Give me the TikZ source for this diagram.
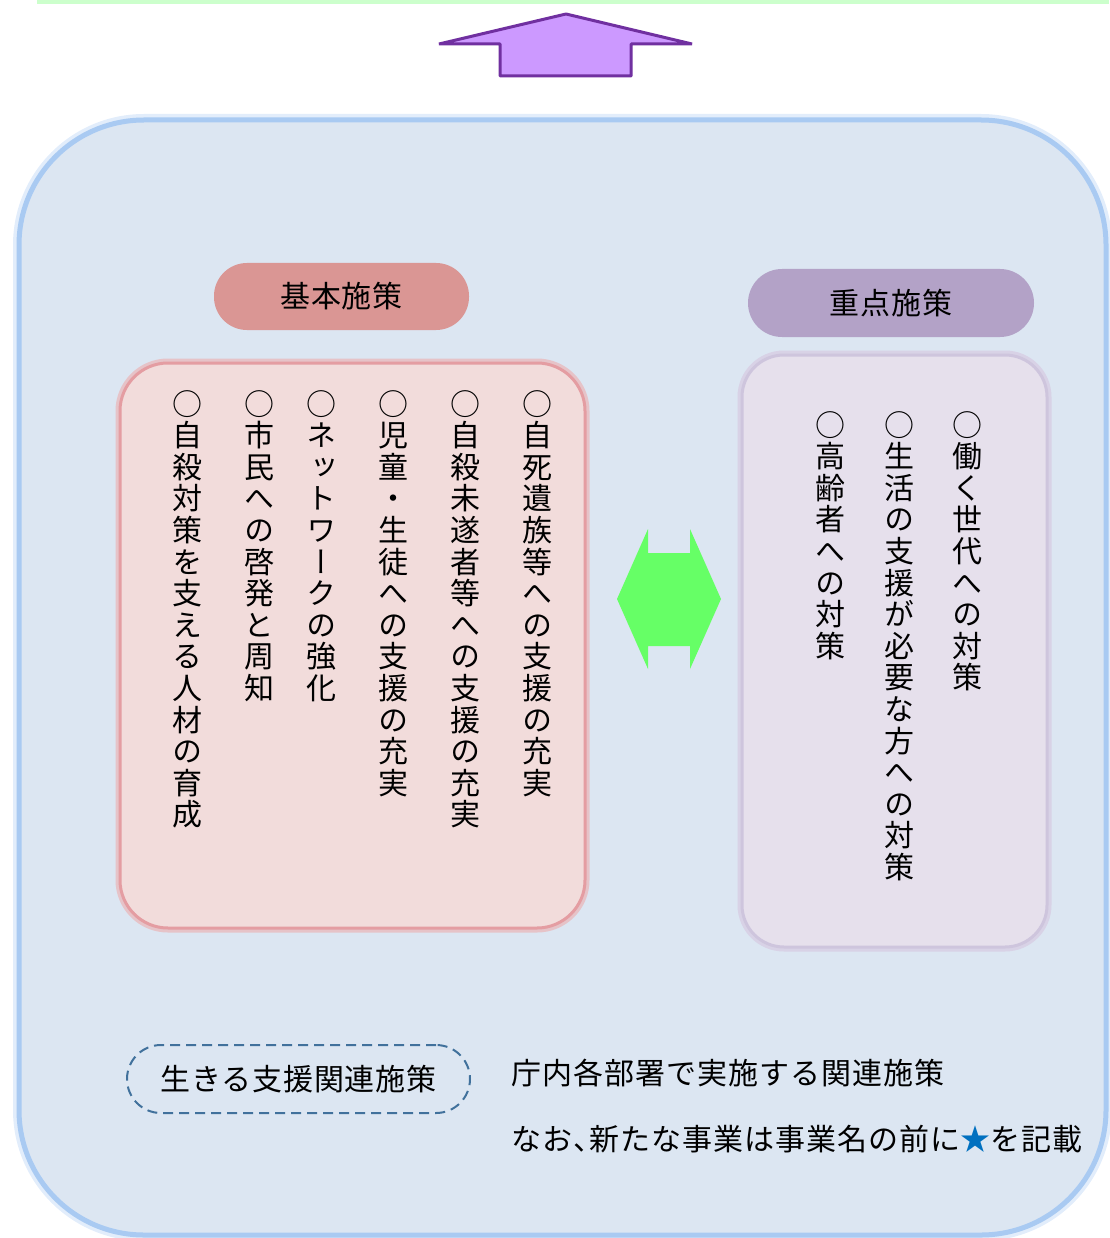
\documentclass[tikz,border=0pt]{standalone}
\usepackage{fontspec}
\setmainfont{Noto Sans CJK JP}
\newfontfamily\jp{Noto Sans CJK JP}
\newfontfamily\vjp[RawFeature=+vert]{Noto Sans CJK JP}
\definecolor{bigfill}{HTML}{DCE6F2}
\definecolor{bigedge}{HTML}{A9CAF2}
\definecolor{bighalo}{HTML}{E2EDFB}
\definecolor{pinkfill}{HTML}{F2DCDB}
\definecolor{pinkedge}{HTML}{E49DA2}
\definecolor{pinkhalo}{HTML}{E6C3C8}
\definecolor{lilacfill}{HTML}{E6E0EC}
\definecolor{lilacedge}{HTML}{CEC5DD}
\definecolor{lilachalo}{HTML}{D8D2E6}
\definecolor{kihoncol}{HTML}{DA9694}
\definecolor{juten}{HTML}{B3A2C7}
\definecolor{arrowfill}{HTML}{CC99FF}
\definecolor{arrowedge}{HTML}{7030A0}
\definecolor{greenarrow}{HTML}{66FF66}
\definecolor{topline}{HTML}{CCFFCC}
\definecolor{dashcol}{HTML}{41719C}
\definecolor{starblue}{HTML}{0070C0}
\makeatletter
\newcommand\vtext[1]{\vbox{\baselineskip=31.6pt\lineskiplimit=-\maxdimen\@tfor\vch:=#1\do{\hbox{\vch}}}}
\makeatother
\tikzset{
  vcol/.style={anchor=north, inner sep=0pt, font=\vjp\fontsize{30}{31.6}\selectfont},
  pill/.style={inner sep=0pt, font=\jp\fontsize{30}{36}\addfontfeature{LetterSpace=3}\selectfont},
  htext/.style={anchor=west, inner sep=0pt, font=\jp\fontsize{30}{36}\addfontfeature{LetterSpace=3.5}\selectfont},
}
\begin{document}
\begin{tikzpicture}[x=1pt,y=-1pt]
\useasboundingbox (0,0) rectangle (1109,1238);
% top green line
\fill[topline] (37,0) rectangle (1109,4);
% purple up arrow
\draw[fill=arrowfill, draw=arrowedge, line width=3pt, line join=bevel]
  (566,14) -- (692,44) -- (631,44) -- (631,76) -- (500,76) -- (500,44) -- (439,44) -- cycle;
% big rounded panel
\draw[bighalo, line width=12pt, rounded corners=125pt] (19,120) rectangle (1106,1235);
\draw[fill=bigfill, draw=bigedge, line width=5pt, rounded corners=125pt] (19,120) rectangle (1106,1235);
% pills
\node[pill, fill=kihoncol, minimum width=255pt, minimum height=67pt, rounded corners=33pt] (kihon) at (341.5,296.5) {基本施策};
\node[pill, fill=juten, minimum width=286pt, minimum height=68pt, rounded corners=34pt] (jutenp) at (891,303) {重点施策};
% left box
\draw[pinkhalo, line width=9pt, rounded corners=48pt] (120,363) rectangle (585,928);
\draw[fill=pinkfill, draw=pinkedge, line width=3pt, rounded corners=48pt] (120,363) rectangle (585,928);
% right box
\draw[lilachalo, line width=9pt, rounded corners=42pt] (742,355) rectangle (1047,947);
\draw[fill=lilacfill, draw=lilacedge, line width=3pt, rounded corners=42pt] (742,355) rectangle (1047,947);
% left columns
\node[vcol] (l1) at (537,390) {\vtext{○自死遺族等への支援の充実}};
\node[vcol] (l2) at (465,390) {\vtext{○自殺未遂者等への支援の充実}};
\node[vcol] (l3) at (393,390) {\vtext{○児童・生徒への支援の充実}};
\node[vcol] (l4) at (321,390) {\vtext{○ネットワークの強化}};
\node[vcol] (l5) at (259,390) {\vtext{○市民への啓発と周知}};
\node[vcol] (l6) at (187,390) {\vtext{○自殺対策を支える人材の育成}};
% right columns
\node[vcol] (r1) at (967,411) {\vtext{○働く世代への対策}};
\node[vcol] (r2) at (899,411) {\vtext{○生活の支援が必要な方への対策}};
\node[vcol] (r3) at (830,411) {\vtext{○高齢者への対策}};
% green double arrow
\fill[greenarrow] (617,599) -- (648,529) -- (648,553) -- (690,553) -- (690,529) -- (721,599)
  -- (690,669) -- (690,646) -- (648,646) -- (648,669) -- cycle;
% legend
\node[pill, draw=dashcol, line width=2pt, dash pattern=on 10pt off 6pt, minimum width=343pt, minimum height=68pt, rounded corners=34pt] (ikiru) at (298.5,1079) {生きる支援関連施策};
\node[htext] (t1) at (511,1073) {庁内各部署で実施する関連施策};
\node[htext] (t2) at (511,1139) {なお、\kern-14pt 新たな事業は事業名の前に\textcolor{starblue}{★}を記載};
\end{tikzpicture}
\end{document}
